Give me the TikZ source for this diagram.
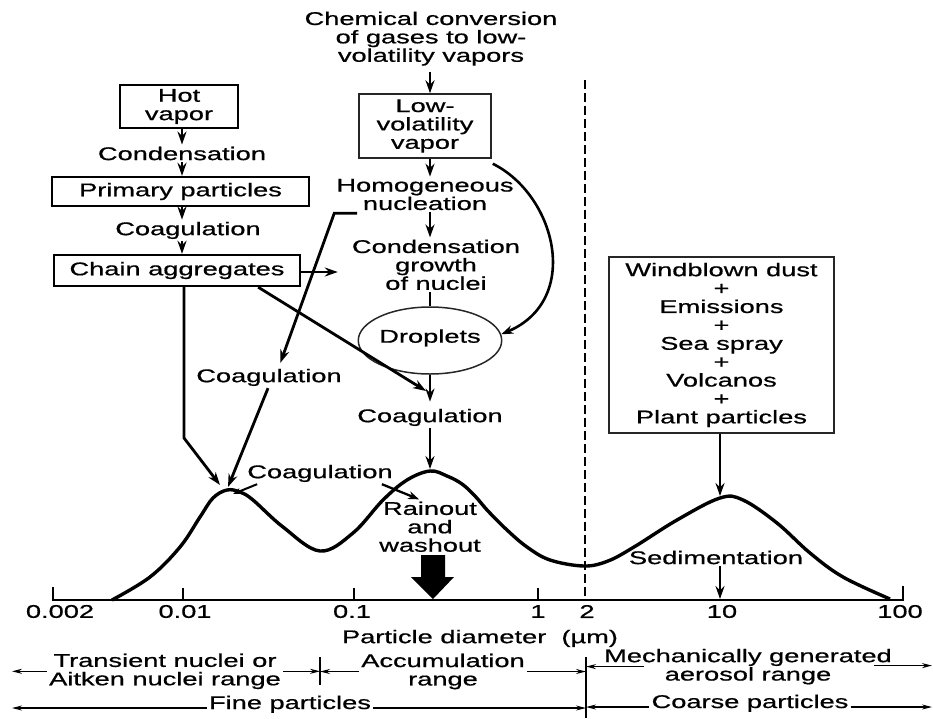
\documentclass[tikz,border=0pt]{standalone}
\usepackage{fontspec}
\newfontfamily\lbl[FakeStretch=1.48,FakeBold=0.7]{Liberation Sans}
\usetikzlibrary{arrows.meta,shapes.geometric}
\begin{document}
\begin{tikzpicture}[x=1pt,y=-1pt,
  every node/.style={font=\lbl\fontsize{18.4}{18.4}\selectfont, inner sep=2pt, align=center},
  box/.style={draw, line width=2.3pt, inner sep=0pt},
  lbox/.style={draw=black!85, line width=1.5pt, inner sep=0pt},
  arr/.style={line width=2.8pt, -{Stealth[length=13pt,width=9pt]}},
  tarr/.style={line width=1.1pt, -{Stealth[length=10pt,width=5pt]}}]
\useasboundingbox (0,0) rectangle (933,718);
\coordinate (colL) at (182,0);
\coordinate (colM) at (430,0);
\coordinate (L) at (12,0);
\coordinate (R) at (932,0);
\coordinate (pk1a) at (220,485);
\coordinate (pk1b) at (228,487);
\coordinate (pk1c) at (233,494);
\coordinate (pk2) at (430,469);
\coordinate (pk3) at (720,496);
\coordinate (bend) at (184,438);
\coordinate (cj) at (426,391);
\coordinate (t10) at (720,599);
\coordinate (s1t) at (320,657);
\coordinate (s1b) at (320,685);
\coordinate (s2t) at (586,657);
\coordinate (s2b) at (586,718);
\node (chem) at (431,38.6) {Chemical conversion\\of gases to low-\\volatility vapors};
\node[lbox, minimum width=132pt, minimum height=64pt] (lowvol) at (425,126) {Low-\\volatility\\vapor};
\node[box, minimum width=118pt, minimum height=43pt] (hot) at (179,106.5) {Hot\\vapor};
\node (cond) at (182,153.5) {Condensation};
\node[box, minimum width=257pt, minimum height=29pt] (prim) at (180.5,191.5) {Primary particles};
\node (coag1) at (188,230.4) {Coagulation};
\node[box, minimum width=246pt, minimum height=31pt] (chain) at (177,270.5) {Chain aggregates};
\node (homog) at (425,194.5) {Homogeneous\\nucleation};
\node (condg) at (436,264.8) {Condensation\\growth\\of nuclei};
\node[lbox, ellipse, minimum width=106pt, minimum height=67pt] (drop) at (430,340.5) {\raisebox{9pt}{Droplets}};
\node (coag2) at (269,377.4) {Coagulation};
\node (coag3) at (430,417.4) {Coagulation};
\node (coag4) at (320,473.4) {Coagulation};
\node (rain) at (430,526.7) {Rainout\\and\\washout};
\node[lbox, minimum width=225pt, minimum height=176pt] (wind) at (721.5,345) {Windblown dust\\+\\Emissions\\+\\Sea spray\\+\\Volcanos\\+\\Plant particles};
\node (sedi) at (716,557.5) {Sedimentation};
\node (pdiam) at (480,638.4) {Particle diameter\ \ (µm)};
\node (trans) at (165,671.3) {Transient nuclei or\\Aitken nuclei range};
\node (accu) at (443,671.5) {Accumulation\\range};
\node (mech) at (748,666.6) {Mechanically generated\\aerosol range};
\node[anchor=base] (fine) at (290,709) {Fine particles};
\node[anchor=base] (coarse) at (750,708) {Coarse particles};
\foreach \x/\t [count=\i] in {60/0.002,185/0.01,352/0.1,538/1,587/2,722/10,900/100}
  \node (tick\i) at (\x,611.5) {\t};
\draw[line width=1.4pt, dash pattern=on 9pt off 4pt] (585,80) -- (585,600);
\draw[line width=2.2pt] (53,587) -- (53,600) -- (903,600) -- (903,586);
\foreach \x in {183,354,538}
  \draw[line width=2.2pt] (\x,600) -- (\x,588);
\draw[line width=3.4pt, line join=round] plot[smooth, tension=0.6] coordinates {
  (112,600) (150,577) (180,547) (200,517) (213,498) (227,490) (240,492)
  (253,500) (283,527) (320,551) (353,533) (383,500) (407,480) (430,471)
  (447,476) (462,484) (475,496) (488,511) (507,530) (527,547) (550,560)
  (584,566) (608,561) (634,547) (677,520) (720,498) (743,500) (777,523)
  (810,553) (843,577) (890,599)};
\fill (421,555) -- (445,555) -- (445,577) -- (454,577) -- (433,599) -- (411,577) -- (421,577) -- cycle;
\draw[arr, shorten <=4pt] (chem.south -| colM) -- (lowvol.north -| colM);
\draw[arr] (lowvol.south -| colM) -- (homog.north -| colM);
\draw[arr] (homog.south -| colM) -- (condg.north -| colM);
\draw[line width=2.8pt] (condg.south -| colM) -- (drop.north);
\draw[arr, shorten >=5pt] (drop.south) -- (coag3.north -| colM);
\draw[arr] (coag3.south -| colM) -- (pk2);
\draw[arr] (hot.south -| colL) -- (cond.north -| colL);
\draw[arr] (cond.south -| colL) -- (prim.north -| colL);
\draw[arr] (prim.south -| colL) -- (coag1.north -| colL);
\draw[arr] (coag1.south -| colL) -- (chain.north -| colL);
\draw[arr, shorten >=12pt] ([yshift=-1.5pt]chain.east) -- ([yshift=-1.5pt]chain.east -| condg.west);
\draw[arr, shorten >=4pt] ([xshift=23pt,yshift=-1pt]homog.south west) -- ([yshift=-1pt]homog.south west) -- ([xshift=10pt]coag2.north);
\draw[arr] ([xshift=-1pt]coag2.south) -- (pk1b);
\draw[arr] (chain.south -| bend) -- (bend) -- (pk1a);
\draw[arr] ([xshift=-43pt]chain.south east) -- (cj);
\draw[line width=2.6pt, -{Stealth[length=12pt,width=8.5pt]}] ([xshift=1pt,yshift=-5pt]lowvol.south east) .. controls (556,195) and (582,300) .. (drop.5);
\draw[line width=2pt, -{Stealth[length=8pt,width=6pt]}] ([xshift=12pt]coag4.south west) -- (pk1c);
\draw[line width=2.3pt, -{Stealth[length=11pt,width=8pt]}] ([xshift=-13pt]coag4.south east) -- ([xshift=42pt]rain.north west);
\draw[arr] (wind.south -| pk3) -- (pk3);
\draw[arr] (sedi.south -| pk3) -- (t10);
\draw[line width=1.1pt] (s1t) -- (s1b);
\draw[line width=1.1pt] (s2t) -- (s2b);
\draw[tarr] (trans.west) -- (trans.west -| L);
\draw[tarr] (trans.east) -- (trans.east -| s1t);
\draw[tarr] (accu.west) -- (accu.west -| s1t);
\draw[tarr] (accu.east) -- (accu.east -| s2t);
\draw[tarr] ([xshift=42pt]mech.west) -- (mech.west -| s2t);
\draw[tarr] ([xshift=-20pt,yshift=1pt]mech.east) -- ([yshift=1pt]mech.east -| R);
\draw[tarr] ([yshift=1pt]fine.base west) -- ([yshift=1pt]fine.base west -| L);
\draw[tarr] ([yshift=1pt]fine.base east) -- ([yshift=1pt]fine.base east -| s2t);
\draw[tarr] ([yshift=1pt]coarse.base west) -- ([yshift=1pt]coarse.base west -| s2t);
\draw[tarr] ([yshift=1pt]coarse.base east) -- ([yshift=1pt]coarse.base east -| R);
\end{tikzpicture}
\end{document}
